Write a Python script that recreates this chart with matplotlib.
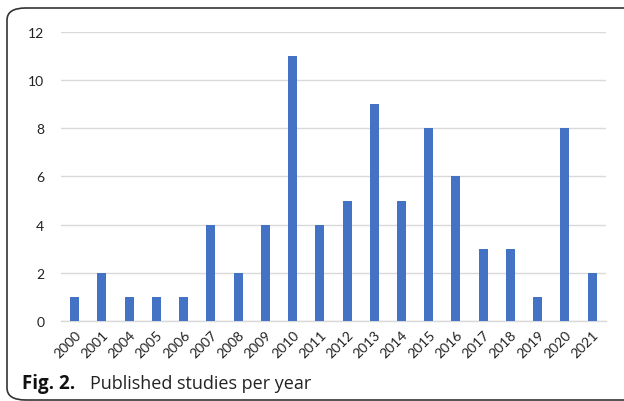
import matplotlib.pyplot as plt
from matplotlib.patches import FancyBboxPatch

years = ['2000', '2001', '2004', '2005', '2006', '2007', '2008', '2009', '2010', '2011',
         '2012', '2013', '2014', '2015', '2016', '2017', '2018', '2019', '2020', '2021']
studies = [1, 2, 1, 1, 1, 4, 2, 4, 11, 4, 5, 9, 5, 8, 6, 3, 3, 1, 8, 2]

plt.rcParams['font.family'] = ['Lato', 'DejaVu Sans']

fig = plt.figure(figsize=(6.24, 4.02), dpi=100)
ax = fig.add_axes([0.0978, 0.199, 0.873, 0.719])

x = range(len(years))
ax.bar(x, studies, width=0.33, color='#4472C4', zorder=3)

ax.set_xlim(-0.5, len(years) - 0.5)
ax.set_ylim(0, 12)
ax.set_yticks(range(0, 13, 2))
ax.set_xticks(list(x))
ax.set_xticklabels(years, rotation=45, ha='right', va='top', rotation_mode='anchor')
ax.tick_params(axis='both', length=0, labelsize=10, colors='#222222')
ax.tick_params(axis='y', pad=12)
ax.tick_params(axis='x', pad=5)

ax.grid(axis='y', color='#d9d9d9', lw=1, zorder=0)
for s in ['top', 'right', 'left']:
    ax.spines[s].set_visible(False)
ax.spines['bottom'].set_color('#d9d9d9')
ax.spines['bottom'].set_linewidth(1)

# frame around the figure panel
frame = FancyBboxPatch((7 / 624, 1 / 402), 660 / 624, 392 / 402,
                       boxstyle='round,pad=0,rounding_size=0.03',
                       transform=fig.transFigure, fill=False,
                       edgecolor='#333333', lw=1.2, clip_on=False)
fig.patches.append(frame)

fig.text(22 / 624, 1 - 389 / 402, 'Fig. 2.', fontsize=13.5, fontweight='bold',
         family=['Open Sans', 'DejaVu Sans'], va='baseline', ha='left', color='#111111')
fig.text(90 / 624, 1 - 389 / 402, 'Published studies per year', fontsize=13,
         family=['Open Sans', 'DejaVu Sans'], va='baseline', ha='left', color='#222222')

fig.savefig('out.png', dpi=100)
